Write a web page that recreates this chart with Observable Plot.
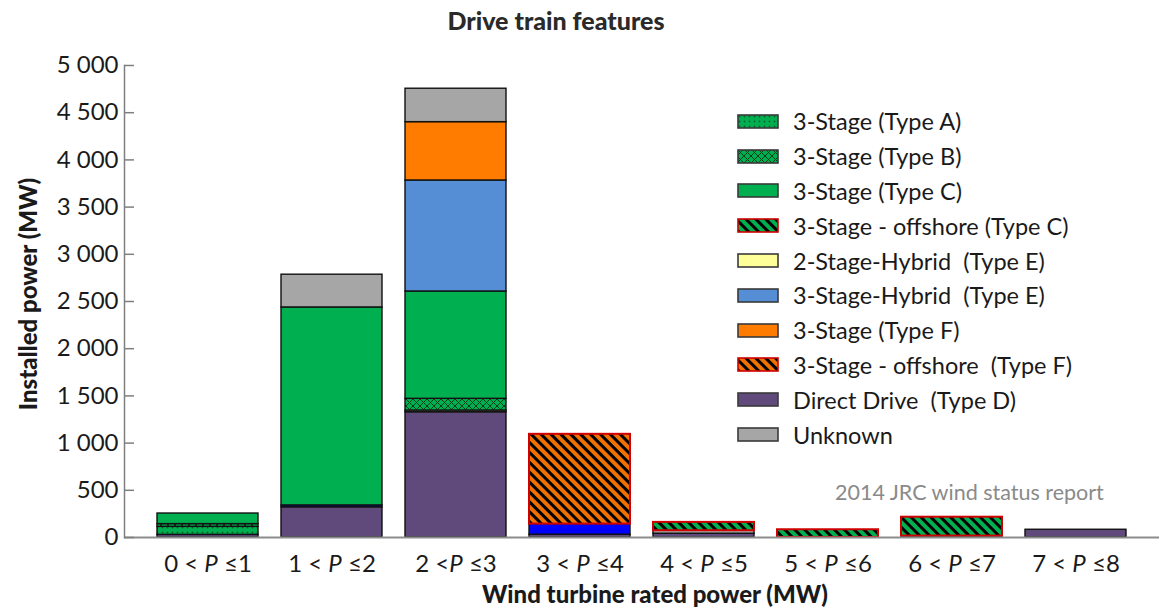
<!DOCTYPE html>
<html>
<head>
<meta charset="utf-8">
<script src="https://cdn.jsdelivr.net/npm/d3@7"></script>
<script src="https://cdn.jsdelivr.net/npm/@observablehq/plot@0.6"></script>
<style>
  body { margin: 0; background: #fff; font-family: Lato, "Open Sans", sans-serif; }
  #wrap { position: relative; width: 1161px; height: 609px; overflow: hidden; }
  #wrap > svg.plot { position: absolute; left: 0; top: 0; }
  .lbl { position: absolute; white-space: pre; color: #1a1a1a; line-height: 1; }
  #title { left: 556px; top: 20px; transform: translate(-50%, -50%); font-size: 25px; font-weight: 900; color: #2a2a2a; }
  #ylab { left: 28px; top: 294px; transform: translate(-50%, -50%) rotate(-90deg); font-size: 24px; font-weight: 900; }
  #xlab { left: 655px; top: 594px; transform: translate(-50%, -50%); font-size: 24px; font-weight: 900; }
  #note { left: 835px; top: 493px; transform: translateY(-50%); font-size: 21.5px; color: #8a8a8a; }
  #legend { position: absolute; left: 737px; top: 104px; }
  .row { display: flex; align-items: center; height: 34.8px; }
  .row svg { width: 42px; height: 15px; margin-right: 14px; flex: none; }
  .row span { font-size: 23.5px; white-space: pre; color: #1a1a1a; }
</style>
</head>
<body>
<svg width="0" height="0" style="position:absolute">
  <defs>
    <pattern id="patA" width="5" height="5" patternUnits="userSpaceOnUse">
      <rect width="5" height="5" fill="#00B050"/>
      <circle cx="2.5" cy="2.5" r="0.9" fill="#0b5e2a"/>
    </pattern>
    <pattern id="patB" width="7" height="7" patternUnits="userSpaceOnUse">
      <rect width="7" height="7" fill="#00B050"/>
      <path d="M0,0L7,7M7,0L0,7" stroke="#0a3d1c" stroke-width="1"/>
    </pattern>
    <pattern id="patOC" width="7" height="7" patternUnits="userSpaceOnUse" patternTransform="rotate(45)">
      <rect width="7" height="7" fill="#00B050"/>
      <rect width="7" height="3" fill="#000"/>
    </pattern>
    <pattern id="patOF" width="7" height="7" patternUnits="userSpaceOnUse" patternTransform="rotate(45)">
      <rect width="7" height="7" fill="#F07000"/>
      <rect width="7" height="3" fill="#000"/>
    </pattern>
  </defs>
</svg>
<div id="wrap">
  <div id="title" class="lbl">Drive train features</div>
  <div id="ylab" class="lbl">Installed power (MW)</div>
  <div id="xlab" class="lbl">Wind turbine rated power (MW)</div>
  <div id="note" class="lbl">2014 JRC wind status report</div>
  <div id="legend"></div>
</div>
<script>
// ---- data (MW) ----
const categories = ["0 < P ≤1", "1 < P ≤2", "2 <P ≤3", "3 < P ≤4", "4 < P ≤5", "5 < P ≤6", "6 < P ≤7", "7 < P ≤8"];
const yTicks = [0, 500, 1000, 1500, 2000, 2500, 3000, 3500, 4000, 4500, 5000];

// stacking order, bottom to top
const seriesNames = [
  "Direct Drive  (Type D)",
  "2-Stage-Hybrid  (Type E)",
  "Other (unlabelled)",
  "3-Stage (Type A)",
  "3-Stage (Type B)",
  "3-Stage (Type C)",
  "3-Stage-Hybrid  (Type E)",
  "3-Stage (Type F)",
  "Unknown",
  "3-Stage - offshore  (Type F)",
  "3-Stage - offshore (Type C)"
];
const directDrive       = [28, 320, 1327, 30, 40, 0, 0, 82];
const twoStageHybridE   = [0, 0, 18, 0, 0, 0, 0, 0];
const otherUnlabelled   = [0, 20, 0, 112, 0, 0, 15, 0];
const threeStageA       = [85, 0, 0, 0, 0, 0, 0, 0];
const threeStageB       = [29, 0, 124, 0, 0, 0, 0, 0];
const threeStageC       = [112, 2097, 1137, 0, 0, 0, 0, 0];
const threeStageHybridE = [0, 0, 1176, 0, 0, 0, 0, 0];
const threeStageF       = [0, 0, 618, 0, 0, 0, 0, 0];
const unknown           = [0, 347, 354, 0, 32, 0, 0, 0];
const offshoreF         = [0, 0, 0, 951, 0, 0, 0, 0];
const offshoreC         = [0, 0, 0, 0, 88, 82, 200, 0];
const seriesValues = [directDrive, twoStageHybridE, otherUnlabelled, threeStageA, threeStageB,
  threeStageC, threeStageHybridE, threeStageF, unknown, offshoreF, offshoreC];

const legendOrder = [
  "3-Stage (Type A)", "3-Stage (Type B)", "3-Stage (Type C)", "3-Stage - offshore (Type C)",
  "2-Stage-Hybrid  (Type E)", "3-Stage-Hybrid  (Type E)", "3-Stage (Type F)",
  "3-Stage - offshore  (Type F)", "Direct Drive  (Type D)", "Unknown"
];

// ---- styles ----
const fillOf = {
  "Direct Drive  (Type D)": "#604A7B",
  "2-Stage-Hybrid  (Type E)": "#FFFF99",
  "Other (unlabelled)": "#0000FF",
  "3-Stage (Type A)": "url(#patA)",
  "3-Stage (Type B)": "url(#patB)",
  "3-Stage (Type C)": "#00B050",
  "3-Stage-Hybrid  (Type E)": "#558ED5",
  "3-Stage (Type F)": "#FF7C00",
  "Unknown": "#A6A6A6",
  "3-Stage - offshore  (Type F)": "url(#patOF)",
  "3-Stage - offshore (Type C)": "url(#patOC)"
};
const isOffshore = s => s.includes("offshore");

// ---- table ----
const rows = [];
categories.forEach((c, i) => {
  seriesNames.forEach((s, j) => {
    const v = seriesValues[j][i];
    if (v > 0) rows.push({category: c, series: s, value: v});
  });
});

const fmt = d => d3.format(",")(d).replace(/,/g, " ");

const chart = Plot.plot({
  width: 1161,
  height: 609,
  marginTop: 65,
  marginBottom: 72,
  marginLeft: 124,
  marginRight: 2,
  style: {fontFamily: "Lato, 'Open Sans', sans-serif", background: "transparent", color: "#1a1a1a"},
  x: {domain: categories, paddingInner: 0.185, paddingOuter: 0.255, label: null},
  y: {domain: [0, 5000], label: null},
  color: {type: "identity"},
  marks: [
    Plot.barY(rows, Plot.stackY({
      x: "category",
      y: "value",
      fill: d => fillOf[d.series],
      stroke: d => isOffshore(d.series) ? "#D00000" : "#111111",
      strokeWidth: d => isOffshore(d.series) ? 2 : 1.4
    })),
    Plot.ruleY([0], {stroke: "#8c8c8c", strokeWidth: 2}),
    Plot.frame({anchor: "left", stroke: "#7f7f7f", strokeWidth: 1.5}),
    Plot.axisY({ticks: yTicks, tickSize: -10, stroke: "#7f7f7f", strokeWidth: 1.5, text: null}),
    Plot.axisY({ticks: yTicks, tickSize: 0, tickPadding: 6, tickFormat: fmt, fontSize: 24, fill: "#1a1a1a", label: null}),
    Plot.axisX({tickSize: 0, tickPadding: 17, fontSize: 24, fill: "#1a1a1a", label: null})
  ]
});
chart.classList.add("plot");
document.getElementById("wrap").prepend(chart);

// italic P in x tick labels
chart.querySelectorAll('g[aria-label="x-axis tick label"] text').forEach(t => {
  const s = t.textContent;
  const k = s.indexOf("P");
  if (k < 0) return;
  t.textContent = "";
  const ns = "http://www.w3.org/2000/svg";
  const a = document.createElementNS(ns, "tspan"); a.textContent = s.slice(0, k);
  const p = document.createElementNS(ns, "tspan"); p.textContent = "P"; p.setAttribute("font-style", "italic");
  const b = document.createElementNS(ns, "tspan"); b.textContent = s.slice(k + 1);
  t.append(a, p, b);
});

// legend
const legend = document.getElementById("legend");
legendOrder.forEach(s => {
  const row = document.createElement("div");
  row.className = "row";
  const stroke = isOffshore(s) ? "#D00000" : "#3a3a3a";
  row.innerHTML = `<svg viewBox="0 0 42 15"><rect x="1" y="1" width="40" height="13" fill="${fillOf[s]}" stroke="${stroke}" stroke-width="1.6"/></svg><span></span>`;
  row.querySelector("span").textContent = s;
  legend.appendChild(row);
});
</script>
</body>
</html>
